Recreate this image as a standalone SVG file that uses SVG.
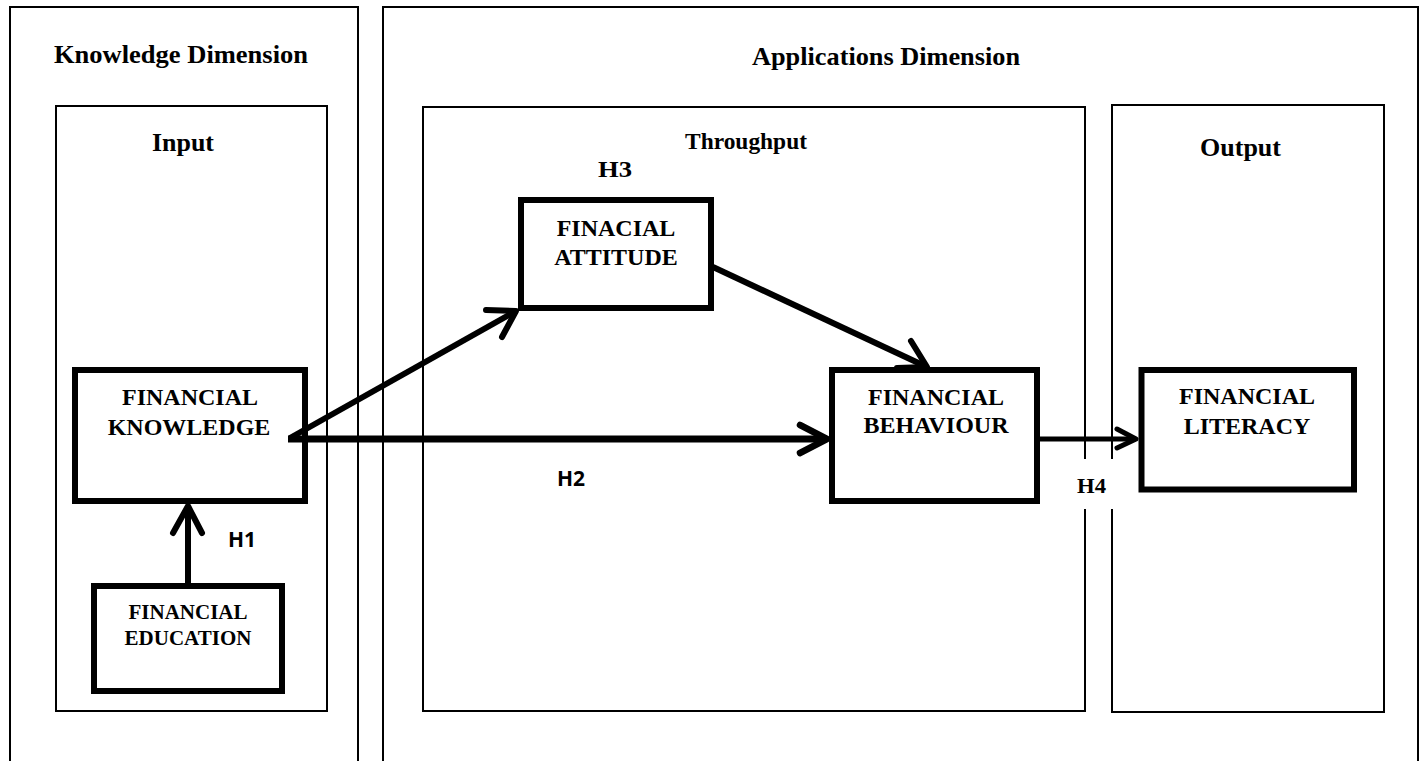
<svg xmlns="http://www.w3.org/2000/svg" width="1421" height="761" viewBox="0 0 1421 761">
<style>
.frame{fill:none;stroke:#000;stroke-width:2}
.node{fill:#fff;stroke:#000;stroke-width:6}
.t{font-family:"Liberation Serif","Times New Roman",serif;font-weight:bold;fill:#000}
.tn{font-family:"Liberation Serif","Times New Roman",serif;font-weight:bold;fill:#000;text-anchor:middle;font-size:24px}
.ts{font-family:"Open Sans","Liberation Sans",Arial,sans-serif;font-weight:bold;fill:#000;font-size:21px}
.ln{fill:none;stroke:#000;stroke-linecap:butt}
.hd{fill:none;stroke:#000;stroke-linecap:round;stroke-linejoin:round}
</style>
<rect width="1421" height="761" fill="#fff"/>
<g id="knowledge-dimension">
<path class="frame" d="M10,770 V7 H358 V770"/>
<text class="t" x="54" y="63" font-size="26" textLength="254" lengthAdjust="spacingAndGlyphs">Knowledge Dimension</text>
</g>
<g id="applications-dimension">
<path class="frame" d="M383,770 V7 H1418 V770"/>
<text class="t" x="752" y="65" font-size="26" textLength="268" lengthAdjust="spacingAndGlyphs">Applications Dimension</text>
</g>
<g id="input">
<rect class="frame" x="56" y="106" width="271" height="605"/>
<text class="t" x="152" y="151" font-size="26" textLength="62" lengthAdjust="spacingAndGlyphs">Input</text>
</g>
<g id="throughput">
<rect class="frame" x="423" y="107" width="662" height="604"/>
<text class="t" x="685" y="149" font-size="23" textLength="122" lengthAdjust="spacingAndGlyphs">Throughput</text>
</g>
<g id="output">
<rect class="frame" x="1112" y="105" width="272" height="607"/>
<text class="t" x="1200" y="156" font-size="26" textLength="81" lengthAdjust="spacingAndGlyphs">Output</text>
</g>
<g id="financial-knowledge">
<rect class="node" x="75" y="370" width="230" height="131" stroke-width="5.5"/>
<text class="tn" x="190" y="405">FINANCIAL</text>
<text class="tn" x="189" y="435">KNOWLEDGE</text>
</g>
<g id="financial-education">
<rect class="node" x="94" y="586" width="188" height="105"/>
<text class="tn" x="188" y="619" font-size="21" style="font-size:21px">FINANCIAL</text>
<text class="tn" x="188" y="645" style="font-size:21px">EDUCATION</text>
</g>
<g id="finacial-attitude">
<rect class="node" x="521" y="200" width="190" height="108"/>
<text class="tn" x="616" y="236">FINACIAL</text>
<text class="tn" x="616" y="265">ATTITUDE</text>
</g>
<g id="financial-behaviour">
<rect class="node" x="832" y="370" width="205" height="131"/>
<text class="tn" x="936" y="405">FINANCIAL</text>
<text class="tn" x="936" y="433">BEHAVIOUR</text>
</g>
<g id="financial-literacy">
<rect class="node" x="1141.5" y="370" width="212.5" height="119.5"/>
<text class="tn" x="1247" y="404">FINANCIAL</text>
<text class="tn" x="1247" y="434">LITERACY</text>
</g>
<g id="connectors">
<line class="ln" x1="188" y1="586" x2="188" y2="507" stroke-width="6"/>
<polyline class="hd" points="173,533 188,506 202,533" stroke-width="6"/>
<line class="ln" x1="288" y1="439" x2="827" y2="439" stroke-width="7"/>
<polyline class="hd" points="800,425 827,439 800,453" stroke-width="6.5"/>
<line class="ln" x1="290" y1="438" x2="516" y2="311" stroke-width="6"/>
<polyline class="hd" points="486,310 516,311 502,337" stroke-width="6"/>
<line class="ln" x1="713" y1="267" x2="927" y2="367" stroke-width="6"/>
<polyline class="hd" points="911,341 927,367 897,368" stroke-width="6"/>
<line class="ln" x1="1040" y1="439" x2="1136" y2="439" stroke-width="5"/>
<polyline class="hd" points="1117,429 1136,439 1117,448" stroke-width="5"/>
</g>
<g id="labels">
<text class="ts" x="228" y="547">H1</text>
<text class="ts" x="557" y="486">H2</text>
<text class="t" x="598" y="177" font-size="24" textLength="34" lengthAdjust="spacingAndGlyphs">H3</text>
<rect x="1080" y="459" width="38" height="50" fill="#fff"/>
<text class="t" x="1077" y="493" font-size="22" textLength="29" lengthAdjust="spacingAndGlyphs">H4</text>
</g>
</svg>
